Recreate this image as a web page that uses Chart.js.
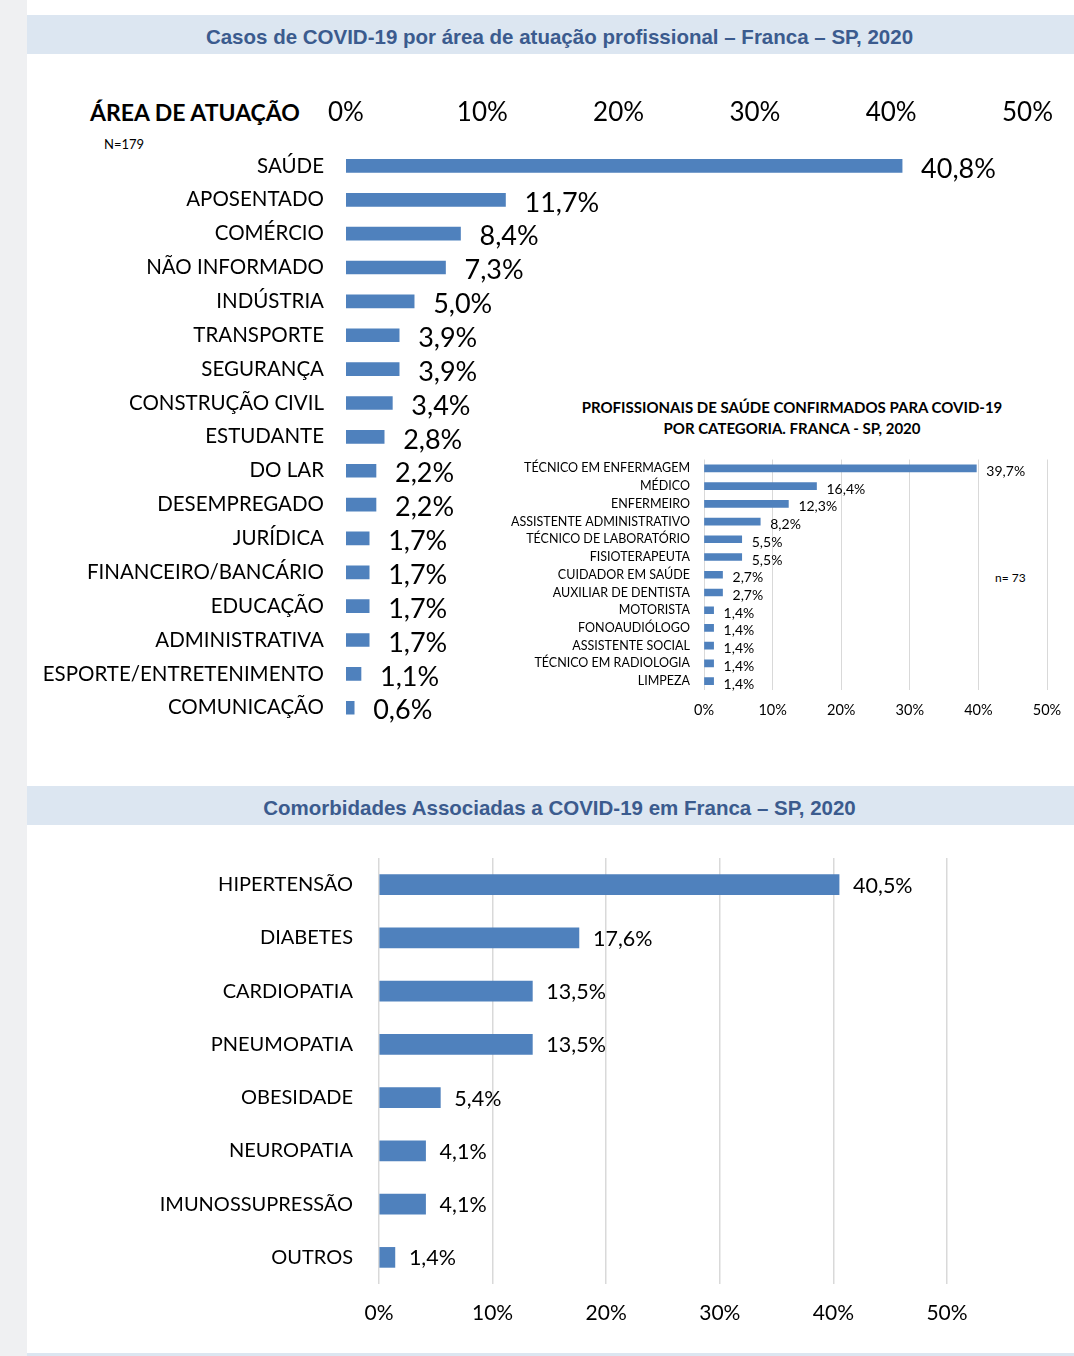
<!DOCTYPE html>
<html>
<head>
<meta charset="utf-8">
<script src="https://cdn.jsdelivr.net/npm/chart.js@4.4.1/dist/chart.umd.min.js"></script>
<style>
  body { margin: 0; width: 1074px; height: 1356px; background: #eff0f2; position: relative; overflow: hidden; font-family: Lato, sans-serif; }
  #page { position: absolute; left: 27px; top: 0; width: 1047px; height: 1356px; background: #fff; }
  .band { position: absolute; left: 27px; width: 1047px; background: #dce6f1; color: #3b5b8e;
          font: bold 20.5px "Liberation Sans", Arial, sans-serif; text-align: center; box-sizing: border-box; padding-left: 18px; }
  .txt { position: absolute; white-space: nowrap; color: #000; }
  canvas { position: absolute; }
</style>
</head>
<body>
<div id="page"></div>
<div class="band" style="top:15px;height:39px;line-height:43px;">Casos de COVID-19 por área de atuação profissional – Franca – SP, 2020</div>
<div class="band" style="top:786px;height:39px;line-height:43px;">Comorbidades Associadas a COVID-19 em Franca – SP, 2020</div>
<div class="band" style="top:1353px;height:3px;"></div>

<div class="txt" style="left:90px;top:98px;font:bold 23px Lato, sans-serif;">ÁREA DE ATUAÇÃO</div>
<div class="txt" style="left:104px;top:136px;font:13px Lato, sans-serif;">N=179</div>
<div class="txt" style="left:542px;top:397px;width:500px;text-align:center;font:bold 15px Lato, sans-serif;line-height:21px;">PROFISSIONAIS DE SAÚDE CONFIRMADOS PARA COVID-19<br>POR CATEGORIA. FRANCA - SP, 2020</div>
<div class="txt" style="left:995px;top:570px;font:12px Lato, sans-serif;">n= 73</div>

<canvas id="areaChart" width="1047" height="676" style="left:27px;top:83px;width:1047px;height:676px;"></canvas>
<canvas id="saudeChart" width="594" height="292" style="left:480px;top:438px;width:594px;height:292px;"></canvas>
<canvas id="comorbChart" width="1047" height="530" style="left:27px;top:820px;width:1047px;height:530px;"></canvas>

<script>
const areaLabels = ['SAÚDE', 'APOSENTADO', 'COMÉRCIO', 'NÃO INFORMADO', 'INDÚSTRIA', 'TRANSPORTE', 'SEGURANÇA',
  'CONSTRUÇÃO CIVIL', 'ESTUDANTE', 'DO LAR', 'DESEMPREGADO', 'JURÍDICA', 'FINANCEIRO/BANCÁRIO', 'EDUCAÇÃO',
  'ADMINISTRATIVA', 'ESPORTE/ENTRETENIMENTO', 'COMUNICAÇÃO'];
const areaValues = [40.8, 11.7, 8.4, 7.3, 5.0, 3.9, 3.9, 3.4, 2.8, 2.2, 2.2, 1.7, 1.7, 1.7, 1.7, 1.1, 0.6];

const saudeLabels = ['TÉCNICO EM ENFERMAGEM', 'MÉDICO', 'ENFERMEIRO', 'ASSISTENTE ADMINISTRATIVO', 'TÉCNICO DE LABORATÓRIO',
  'FISIOTERAPEUTA', 'CUIDADOR EM SAÚDE', 'AUXILIAR DE DENTISTA', 'MOTORISTA', 'FONOAUDIÓLOGO', 'ASSISTENTE SOCIAL',
  'TÉCNICO EM RADIOLOGIA', 'LIMPEZA'];
const saudeValues = [39.7, 16.4, 12.3, 8.2, 5.5, 5.5, 2.7, 2.7, 1.4, 1.4, 1.4, 1.4, 1.4];

const comorbLabels = ['HIPERTENSÃO', 'DIABETES', 'CARDIOPATIA', 'PNEUMOPATIA', 'OBESIDADE', 'NEUROPATIA', 'IMUNOSSUPRESSÃO', 'OUTROS'];
const comorbValues = [40.5, 17.6, 13.5, 13.5, 5.4, 4.1, 4.1, 1.4];

const axisMax = 50;
const axisStep = 10;
const barColor = '#4f81bd';

// draws "40,8%" style labels right of each bar
function valueLabels(font, gap, dy) {
  return {
    id: 'valueLabels',
    afterDatasetsDraw(chart) {
      const ctx = chart.ctx;
      const meta = chart.getDatasetMeta(0);
      ctx.save();
      ctx.font = font;
      ctx.fillStyle = '#000';
      ctx.textAlign = 'left';
      ctx.textBaseline = 'middle';
      meta.data.forEach((bar, i) => {
        const v = chart.data.datasets[0].data[i];
        ctx.fillText(v.toFixed(1).replace('.', ',') + '%', bar.x + gap, bar.y + dy);
      });
      ctx.restore();
    }
  };
}

function makeBarChart(id, labels, values, o) {
  return new Chart(document.getElementById(id), {
    type: 'bar',
    data: {
      labels: labels,
      datasets: [{ data: values, backgroundColor: barColor, barThickness: o.bar }]
    },
    options: {
      indexAxis: 'y',
      responsive: false,
      animation: false,
      events: [],
      layout: { padding: o.pad },
      plugins: { legend: { display: false }, tooltip: { enabled: false } },
      scales: {
        x: {
          position: o.xPos,
          min: 0, max: axisMax,
          ticks: { stepSize: axisStep, callback: v => v + '%', color: '#000', font: { family: 'Lato', size: o.xFont }, padding: o.xPadding, maxRotation: 0 },
          grid: { display: o.grid, color: '#d9d9d9', lineWidth: o.gridWidth, drawTicks: false },
          border: { display: false },
          afterFit: s => { s.height = o.xHeight; }
        },
        y: {
          ticks: { color: '#000', font: { family: 'Lato', size: o.yFont }, padding: o.yPadding, autoSkip: false },
          grid: { display: false, drawTicks: false },
          border: { display: false },
          afterFit: s => { s.width = o.yWidth; }
        }
      }
    },
    plugins: [valueLabels(o.valFont, o.gap, o.dy)]
  });
}

makeBarChart('areaChart', areaLabels, areaValues, {
  bar: 13, pad: { top: 0, right: 43, bottom: 17, left: 0 },
  xPos: 'top', xFont: 26, xPadding: 21, xHeight: 66, grid: false, gridWidth: 1,
  yFont: 20.5, yPadding: 22, yWidth: 319,
  valFont: '27px Lato', gap: 19, dy: 3
});

makeBarChart('saudeChart', saudeLabels, saudeValues, {
  bar: 7, pad: { top: 8, right: 27, bottom: 0, left: 0 },
  xPos: 'bottom', xFont: 14.5, xPadding: 12, xHeight: 40, grid: true, gridWidth: 1,
  yFont: 12.5, yPadding: 14, yWidth: 224,
  valFont: '14px Lato', gap: 10, dy: 3
});

makeBarChart('comorbChart', comorbLabels, comorbValues, {
  bar: 20, pad: { top: 18, right: 127, bottom: 0, left: 0 },
  xPos: 'bottom', xFont: 21, xPadding: 17, xHeight: 66, grid: true, gridWidth: 1.5,
  yFont: 20, yPadding: 26, yWidth: 352,
  valFont: '21.5px Lato', gap: 14, dy: 1
});
</script>
</body>
</html>
